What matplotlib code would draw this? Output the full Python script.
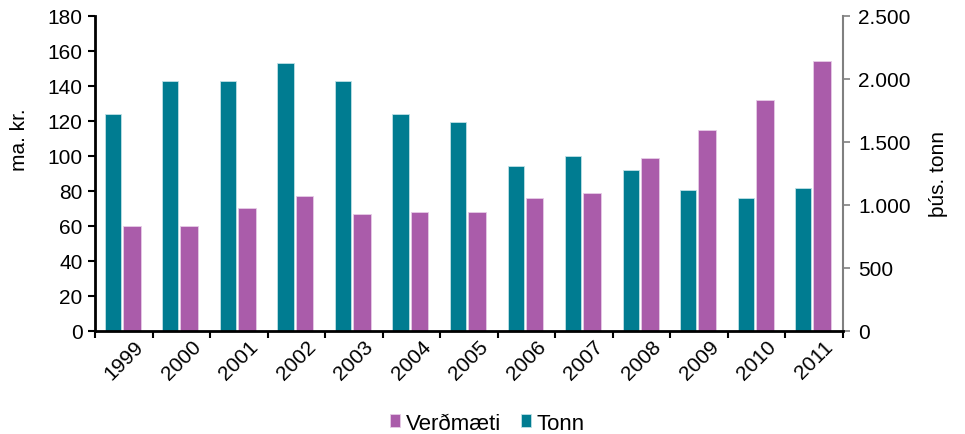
import matplotlib
matplotlib.use('Agg')
import matplotlib.pyplot as plt
import numpy as np
from matplotlib.ticker import FuncFormatter

plt.rcParams['font.family'] = ['Liberation Sans', 'DejaVu Sans']

years = ['1999', '2000', '2001', '2002', '2003', '2004', '2005',
         '2006', '2007', '2008', '2009', '2010', '2011']
verdmaeti = [60, 60, 70, 77, 67, 68, 68, 76, 79, 99, 115, 132, 154]  # ma.kr.
tonn = [1725, 1980, 1980, 2125, 1980, 1725, 1660,
        1310, 1390, 1280, 1120, 1055, 1135]  # þús. tonn

teal = '#007C91'
purple = '#AA5CAA'
fs = 15

fig = plt.figure(figsize=(9.65, 4.35), dpi=100)
ax = fig.add_axes([0.0985, 0.237, 0.775, 0.724])
ax2 = ax.twinx()

x = np.arange(len(years))
ax2.bar(x - 0.19, tonn, width=0.28, color=teal, edgecolor='#bfe0e6', linewidth=0.6, label='Tonn')
ax.bar(x + 0.14, verdmaeti, width=0.31, color=purple, edgecolor='#e6cce6', linewidth=0.6, label='Verðmæti')

ax.set_zorder(ax2.get_zorder() + 1)
ax.patch.set_visible(False)

ax.set_xlim(-0.5, len(years) - 0.5)
ax.set_ylim(0, 180)
ax.set_yticks(range(0, 181, 20))
ax2.set_ylim(0, 2500)
ax2.set_yticks(range(0, 2501, 500))
ax2.yaxis.set_major_formatter(FuncFormatter(lambda v, p: f'{int(v):,}'.replace(',', '.')))

ax.set_xticks(np.arange(len(years) + 1) - 0.5, minor=False)
ax.set_xticklabels([])
ax.set_xticks(x, minor=True)
ax.set_xticklabels(years, minor=True, rotation=45, ha='center', fontsize=fs)
ax.tick_params(axis='x', which='minor', length=0, pad=4)
ax.tick_params(axis='x', which='major', length=5, width=1.5, direction='out')
ax.tick_params(axis='y', length=5, width=1.5, direction='out', labelsize=fs, pad=4)
ax2.tick_params(axis='y', length=5, width=1.2, color='#808080', direction='out', labelsize=fs, pad=6)

for s in ['top', 'right']:
    ax.spines[s].set_visible(False)
ax.spines['left'].set_linewidth(2)
ax.spines['bottom'].set_linewidth(2)
ax2.spines['top'].set_visible(False)
ax2.spines['left'].set_visible(False)
ax2.spines['bottom'].set_visible(False)
ax2.spines['right'].set_color('#808080')
ax2.spines['right'].set_linewidth(1.5)

ax.set_ylabel('ma. kr.', fontsize=fs)
ax.yaxis.set_label_coords(-0.088, 0.61)
ax2.set_ylabel('þús. tonn', fontsize=fs)
ax2.yaxis.set_label_coords(1.115, 0.5)

h1, l1 = ax.get_legend_handles_labels()
h2, l2 = ax2.get_legend_handles_labels()
fig.legend(h1 + h2, l1 + l2, loc='center', bbox_to_anchor=(0.505, 0.025), ncol=2,
           frameon=False, fontsize=16, handlelength=0.45, handleheight=0.55,
           handletextpad=0.25, columnspacing=0.9)

fig.savefig('out.png', dpi=100)
